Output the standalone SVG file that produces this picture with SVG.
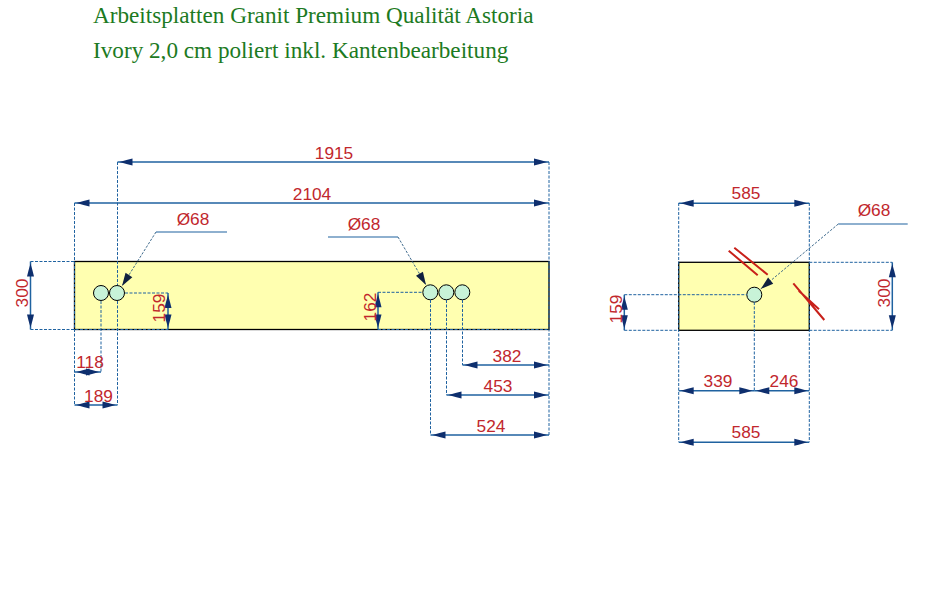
<svg xmlns="http://www.w3.org/2000/svg" width="930" height="607" viewBox="0 0 930 607">
<style>
text{font-family:"Liberation Sans",Arial,sans-serif;font-size:17.3px;fill:#c1272d;text-anchor:middle}
.t{font-family:"Liberation Serif","Times New Roman",serif;font-size:23.2px;fill:#1c7a22;text-anchor:start}
.p{fill:#ffffb0;stroke:#000;stroke-width:1.3}
.h{fill:#c8f3d8;stroke:#000;stroke-width:1}
.d{stroke:#1f62a0;stroke-width:1.5;fill:none;marker-start:url(#a);marker-end:url(#a)}
.e{stroke:#1f62a0;stroke-width:1;stroke-dasharray:3 1.5;fill:none}
.l{stroke:#1f62a0;stroke-width:1.2;fill:none}
.r{stroke:#c8201a;stroke-width:2;fill:none}
.q{stroke:#2a5a80;stroke-width:.9;stroke-dasharray:2.5 1.5;fill:none;marker-end:url(#b)}
</style>
<defs>
<marker id="a" markerUnits="userSpaceOnUse" markerWidth="16" markerHeight="9" refX="16" refY="4.5" orient="auto-start-reverse"><path d="M14 4.500L7 2.500L1 1V8L7 6.500Z" fill="#0e2f6e"/></marker>
<marker id="b" markerUnits="userSpaceOnUse" markerWidth="15" markerHeight="9" refX="14" refY="4.5" orient="auto"><path d="M14 4.5L1 .5V8.5Z" fill="#10203f"/></marker>
</defs>
<rect width="930" height="607" fill="#fff"/>
<g id="title">
<text class="t" x="93" y="23">Arbeitsplatten Granit Premium Qualität Astoria</text>
<text class="t" x="93" y="58">Ivory 2,0 cm poliert inkl. Kantenbearbeitung</text>
</g>
<g id="plate-left"><rect class="p" x="74.5" y="261.5" width="474.5" height="68"/></g>
<g id="plate-right"><rect class="p" x="678.7" y="262.3" width="130.6" height="68"/></g>
<g id="hole-1"><circle class="h" cx="101" cy="293" r="7.5"/></g>
<g id="hole-2"><circle class="h" cx="117" cy="293" r="7.5"/></g>
<g id="hole-3"><circle class="h" cx="430.3" cy="292.3" r="7.5"/></g>
<g id="hole-4"><circle class="h" cx="446.3" cy="292.3" r="7.5"/></g>
<g id="hole-5"><circle class="h" cx="462.3" cy="292.3" r="7.5"/></g>
<g id="hole-6"><circle class="h" cx="754.3" cy="294.7" r="7.5"/></g>
<g id="connectors">
<path class="e" d="M117.5 162V285M117.5 301V405M74.5 203V405M549 162V435M30.5 261.5H74.5M30.5 329.5H168M125 293H168M101 301V372"/>
<path class="e" d="M378 292.3H422M378 329.5H549M430.5 300V435M446.5 300V395M462.5 300V365"/>
<path class="e" d="M678.7 203V442M809.3 203V442M809.3 262.3H892.3M809.3 330.3H892.3M624.3 294.7H747M624.3 330.3H678.7M754.3 302V390.7"/>
<path class="d" d="M117.5 162H549"/>
<path class="d" d="M74.5 203H549"/>
<path class="d" d="M30.5 261.5V329.5"/>
<path class="d" d="M168 293V329.5"/>
<path class="d" d="M74.5 372H101"/>
<path class="d" d="M74.5 405H117.5"/>
<path class="d" d="M378 292.3V329.5"/>
<path class="d" d="M462.5 365H549"/>
<path class="d" d="M446.5 395H549"/>
<path class="d" d="M430.5 435H549"/>
<path class="d" d="M678.7 203.3H809.3"/>
<path class="d" d="M892.3 262.3V330.3"/>
<path class="d" d="M624.3 294.7V330.3"/>
<path class="d" d="M678.7 390.7H754.3"/>
<path class="d" d="M754.3 390.7H809.3"/>
<path class="d" d="M678.7 442.3H809.3"/>
<path class="l" d="M227 232H156M328 237H398M907.7 224H838.3"/>
<path class="q" d="M156 232L122 286"/>
<path class="q" d="M398 237L426 285"/>
<path class="q" d="M838.3 224L760.7 289"/>
</g>
<g id="edge-marks">
<path class="r" d="M728.7 250.7L757.7 275.3M734.3 247.7L767.7 274.7M793.3 283.3L824.3 320M798.7 290.7L819 309.3"/>
</g>
<g id="labels">
<text x="334" y="159">1915</text>
<text x="312" y="200">2104</text>
<text x="193" y="225">Ø68</text>
<text transform="translate(28 293) rotate(-90)">300</text>
<text x="90" y="368">118</text>
<text x="98.500" y="402">189</text>
<text transform="translate(165 308) rotate(-90)">159</text>
<text x="364" y="230">Ø68</text>
<text transform="translate(376 307) rotate(-90)">162</text>
<text x="507" y="362">382</text>
<text x="498" y="392">453</text>
<text x="491" y="432">524</text>
<text x="746" y="199">585</text>
<text x="874" y="216">Ø68</text>
<text transform="translate(890 293) rotate(-90)">300</text>
<text transform="translate(622 309) rotate(-90)">159</text>
<text x="718" y="387">339</text>
<text x="784" y="387">246</text>
<text x="746" y="438">585</text>
</g>
</svg>
